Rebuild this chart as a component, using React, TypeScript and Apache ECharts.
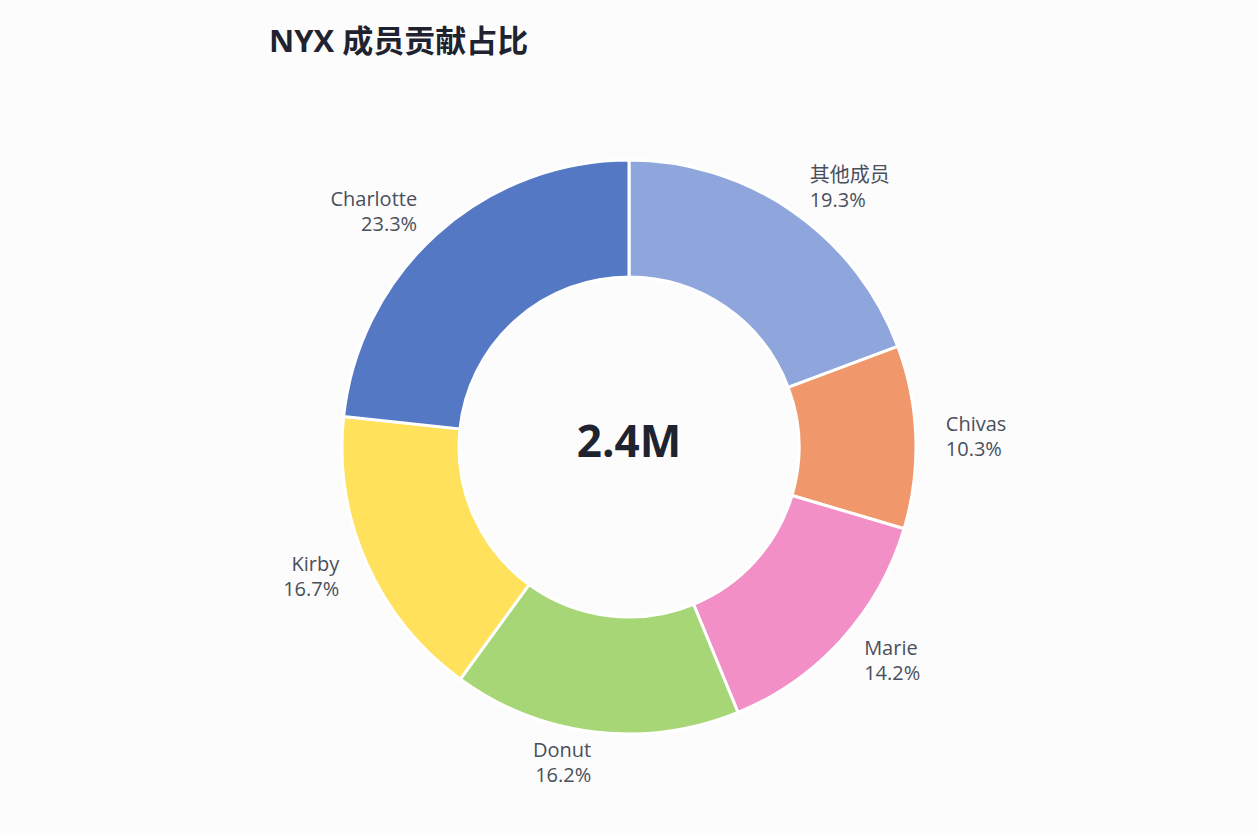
import { useEffect, useRef } from "react";
import * as echarts from "echarts";

const members = ["其他成员", "Chivas", "Marie", "Donut", "Kirby", "Charlotte"];
const shares = [19.3, 10.3, 14.2, 16.2, 16.7, 23.3];
const colors = ["#8fa6dd", "#f0986c", "#f28fc7", "#a6d675", "#ffe15c", "#5478c4"];
const totalLabel = "2.4M";

const FONT = "'Open Sans', 'Noto Sans', 'Noto Sans CJK SC', sans-serif";

export default function App() {
  const ref = useRef<HTMLDivElement>(null);

  useEffect(() => {
    document.body.style.margin = "0";
    if (!ref.current) return;
    const chart = echarts.init(ref.current, undefined, { renderer: "svg" });
    chart.setOption({
      animation: false,
      backgroundColor: "#fcfcfc",
      title: {
        text: "NYX 成员贡献占比",
        left: 264,
        top: 19,
        textStyle: { fontSize: 31, fontWeight: "bold", color: "#1f2330", fontFamily: FONT },
      },
      graphic: [
        {
          type: "text",
          left: "center",
          top: 418,
          style: { text: totalLabel, fontSize: 44, fontWeight: "bold", fill: "#1f2330", fontFamily: FONT },
        },
      ],
      series: [
        {
          type: "pie",
          center: [629, 447],
          radius: [170, 287],
          startAngle: 90,
          clockwise: true,
          itemStyle: { borderColor: "#ffffff", borderWidth: 3 },
          label: {
            show: true,
            position: "outside",
            formatter: (p: any) => `${p.name}\n${p.value.toFixed(1)}%`,
            fontSize: 20,
            lineHeight: 25,
            color: "#4a4f5c",
            fontFamily: FONT,
            distanceToLabelLine: 0,
          },
          labelLine: { show: false, length: 30, length2: 0 },
          data: members.map((m, i) => ({ name: m, value: shares[i], itemStyle: { color: colors[i] } })),
        },
      ],
    });
    return () => chart.dispose();
  }, []);

  return <div ref={ref} style={{ width: 1258, height: 833 }} />;
}
